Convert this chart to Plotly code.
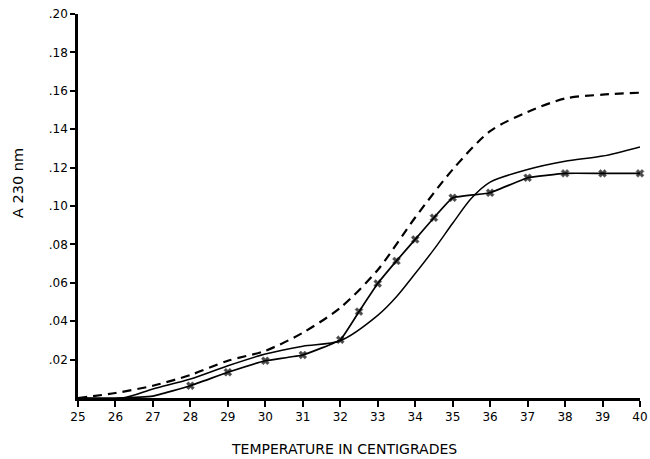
import plotly.graph_objects as go

# Dashed curve
dash_t = [25, 26, 27, 28, 29, 30, 31, 32, 33, 34, 35, 36, 37, 38, 39, 40]
dash_a = [0.000, 0.0026, 0.0064, 0.012, 0.0194, 0.0246, 0.034, 0.047, 0.0667,
          0.094, 0.119, 0.139, 0.149, 0.156, 0.158, 0.159]

# Plain solid curve
solid_t = [25, 26.2, 27, 28, 29, 30, 31, 32, 33, 33.5, 34, 34.5, 35, 35.5, 36,
           37, 38, 39, 40]
solid_a = [0.0, 0.0, 0.0047, 0.0099, 0.0168, 0.0229, 0.027, 0.0298, 0.043,
           0.0527, 0.0648, 0.0774, 0.091, 0.104, 0.1124, 0.119, 0.1233, 0.126,
           0.1308]

# Curve with x markers
mark_t = [25, 26, 27, 28, 29, 30, 31, 32, 32.5, 33, 33.5, 34, 34.5, 35, 36, 37,
          38, 39, 40]
mark_a = [0.0, 0.0, 0.001, 0.0064, 0.0134, 0.0194, 0.0224, 0.0303, 0.045,
          0.0596, 0.0714, 0.0826, 0.0939, 0.1043, 0.1069, 0.1147, 0.117, 0.117,
          0.117]
mark_shown = [False, False, False] + [True] * 16

x_ticks = list(range(25, 41))
y_ticks = [0.02, 0.04, 0.06, 0.08, 0.10, 0.12, 0.14, 0.16, 0.18, 0.20]
y_labels = [".02", ".04", ".06", ".08", ".10", ".12", ".14", ".16", ".18", ".20"]

fig = go.Figure()
fig.add_trace(go.Scatter(
    x=dash_t, y=dash_a, mode="lines",
    line=dict(color="black", width=2.2, dash="9px,6px", shape="spline", smoothing=0.8),
    showlegend=False))
fig.add_trace(go.Scatter(
    x=solid_t, y=solid_a, mode="lines",
    line=dict(color="black", width=1.5, shape="spline", smoothing=0.8),
    showlegend=False))
fig.add_trace(go.Scatter(
    x=mark_t, y=mark_a, mode="lines+markers",
    line=dict(color="black", width=1.7, shape="spline", smoothing=0.3),
    marker=dict(symbol="x", size=[7 if s else 0 for s in mark_shown],
                color="black", line=dict(color="black", width=0.5)),
    cliponaxis=False,
    showlegend=False))

font = dict(family="DejaVu Sans", size=12, color="black")

L, R, T, B = 78, 640, 14, 398  # plot area in page pixels

fig.update_layout(
    template="none",
    width=650, height=459,
    margin=dict(l=L, r=650 - R, t=T, b=459 - B, pad=0, autoexpand=False),
    paper_bgcolor="white", plot_bgcolor="white",
    font=font,
    xaxis=dict(range=[25, 40], tickvals=x_ticks, ticktext=[str(t) for t in x_ticks],
               showline=True, linecolor="black", linewidth=2.5, automargin=False,
               ticks="outside", ticklen=6, tickwidth=2, tickcolor="black",
               showgrid=False, zeroline=False, tickfont=font),
    yaxis=dict(range=[0, 0.20], tickvals=y_ticks, ticktext=y_labels,
               showline=True, linecolor="black", linewidth=2.5, automargin=False,
               ticks="outside", ticklen=5, tickwidth=2, tickcolor="black",
               showgrid=False, zeroline=False, tickfont=font),
    annotations=[
        dict(text="TEMPERATURE IN CENTIGRADES", xref="paper", yref="paper",
             x=(344 - L) / (R - L), y=-(449 - B) / (B - T),
             xanchor="center", yanchor="middle", showarrow=False,
             font=dict(family="DejaVu Sans", size=14, color="black")),
        dict(text="A 230 nm", xref="paper", yref="paper",
             x=-(L - 18) / (R - L), y=(B - 183) / (B - T),
             xanchor="center", yanchor="middle", showarrow=False, textangle=-90,
             font=dict(family="DejaVu Sans", size=14.5, color="black")),
    ],
)

fig.write_html("out.html",
               config={"displayModeBar": False, "responsive": False},
               post_script="document.body.style.margin='0';document.body.style.overflow='hidden';")
